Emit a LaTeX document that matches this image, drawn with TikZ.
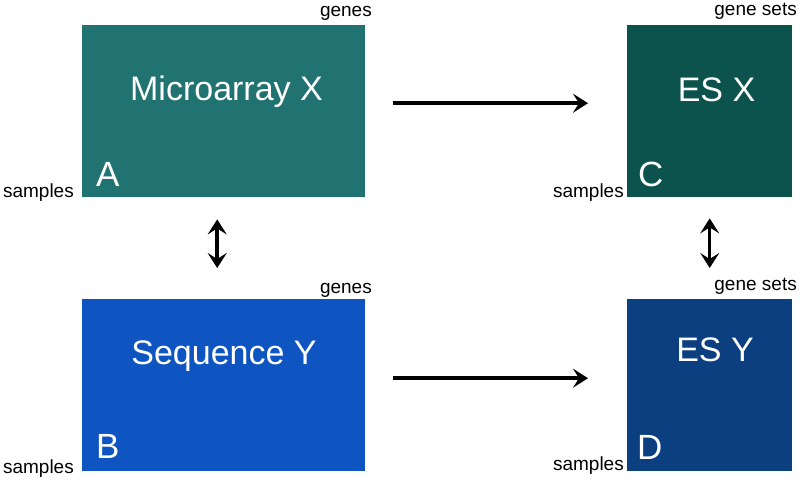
\documentclass[tikz,border=0pt]{standalone}
\usepackage{fontspec}
\setmainfont{Liberation Sans}
\usetikzlibrary{arrows.meta}
\definecolor{colA}{HTML}{207370}
\definecolor{colB}{HTML}{0E55C1}
\definecolor{colC}{HTML}{0C534D}
\definecolor{colD}{HTML}{0B3F80}
\tikzset{myhead/.tip={Stealth[length=15pt,width=19pt,inset=6pt,line join=miter]}}
\begin{document}
\begin{tikzpicture}[x=1pt,y=-1pt,
  box/.style={draw=none,rectangle,inner sep=0,anchor=north west,minimum height=172pt},
  title/.style={text=white,inner sep=0,anchor=base,font=\fontsize{34}{38}\selectfont},
  letter/.style={text=white,inner sep=0,anchor=base west,font=\fontsize{35}{40}\selectfont},
  lab/.style={text=black,inner sep=0,anchor=base east,font=\fontsize{19}{22}\selectfont},
  arr/.style={line width=3.5pt,-myhead},
  darr/.style={line width=3.5pt,myhead-myhead}]
\useasboundingbox (0,0) rectangle (800,483);
\fill[white] (0,0) rectangle (800,483);
% boxes
\node[box,fill=colA,minimum width=283pt] (A) at (82,25) {};
\node[box,fill=colB,minimum width=283pt] (B) at (82,299) {};
\node[box,fill=colC,minimum width=165pt] (C) at (627,25) {};
\node[box,fill=colD,minimum width=165pt] (D) at (627,299) {};
% titles
\node[title] (tA) at (226.5,100) {Microarray X};
\node[title] (tB) at (224,364) {Sequence Y};
\node[title] (tC) at (716.5,101) {ES X};
\node[title] (tD) at (715,361) {ES Y};
% letters
\node[letter] (lA) at (96,186) {A};
\node[letter] (lB) at (96,458) {B};
\node[letter] (lC) at (638,186) {C};
\node[letter] (lD) at (637,459) {D};
% axis labels
\node[lab] (gA) at (372,16) {genes};
\node[lab] (sA) at (74,197) {samples};
\node[lab] (gB) at (372,293) {genes};
\node[lab] (sB) at (74,473) {samples};
\node[lab] (gC) at (797,15) {gene sets};
\node[lab] (sC) at (624,197) {samples};
\node[lab] (gD) at (797,290) {gene sets};
\node[lab] (sD) at (624,470) {samples};
% connectors
\draw[arr] ([shift={(28pt,8pt)}]A.east) -- ([shift={(-39pt,8pt)}]C.west);
\draw[arr] ([shift={(28pt,7pt)}]B.east) -- ([shift={(-39pt,7pt)}]D.west);
\draw[darr] ([shift={(-6.5pt,-22pt)}]A.south) -- ([shift={(-6.5pt,31pt)}]B.north);
\draw[darr] ([shift={(0pt,-21pt)}]C.south) -- ([shift={(0pt,31pt)}]D.north);
\end{tikzpicture}
\end{document}
